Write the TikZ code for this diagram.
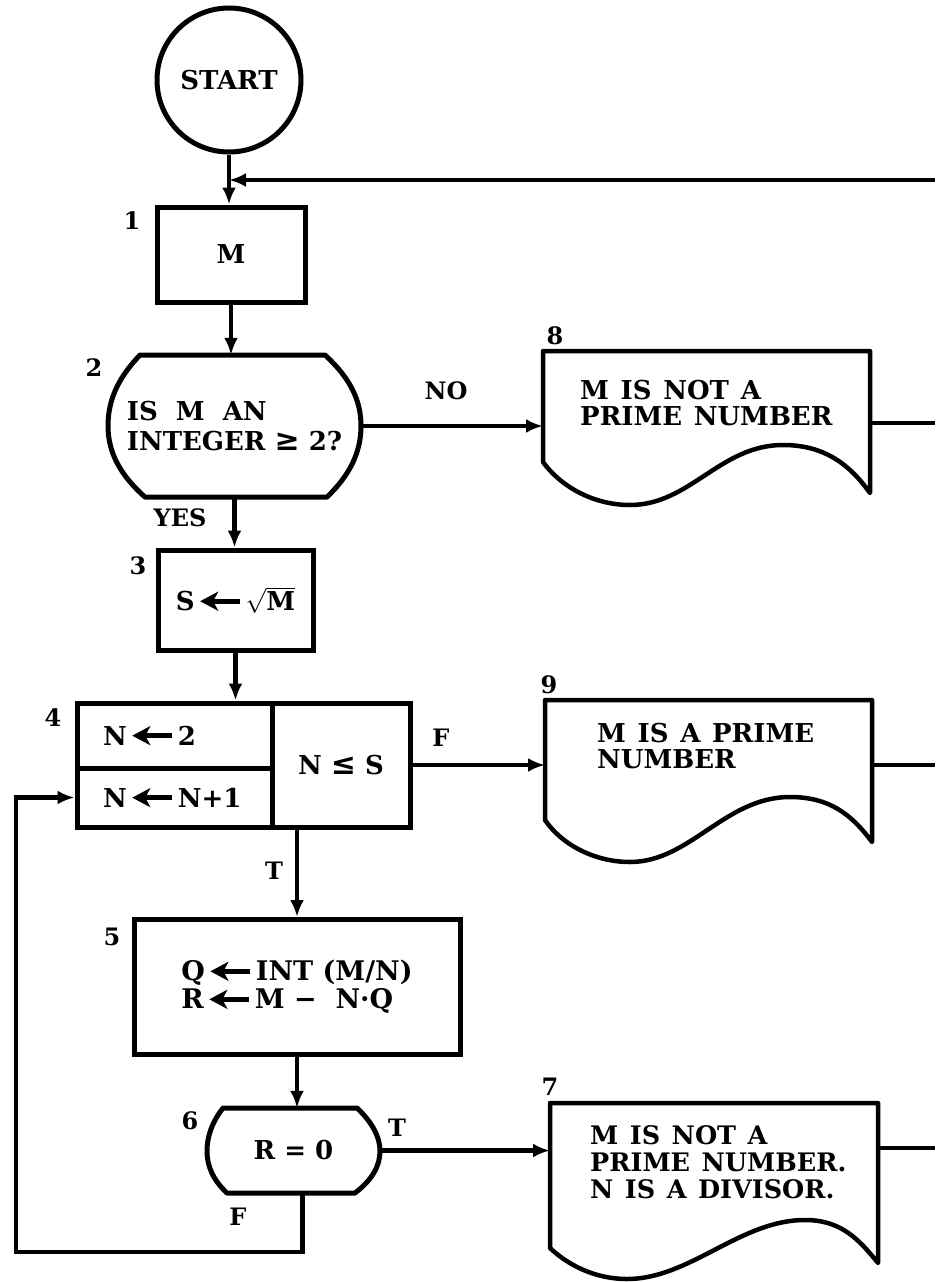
\documentclass[tikz,border=0pt]{standalone}
\usepackage{fontspec}
\setmainfont{DejaVu Serif}
\newfontfamily\symf{DejaVu Sans}
\usetikzlibrary{arrows.meta}
\newcommand\mainsz{\fontsize{26}{30}\selectfont\bfseries}
\newcommand\outsz{\fontsize{26}{26}\selectfont\bfseries\spaceskip=0.45em plus 0.1em\relax}
\newcommand\outszb{\fontsize{25.5}{27}\selectfont\bfseries\spaceskip=0.45em plus 0.1em\relax}
\newcommand\lblsz{\fontsize{24}{26}\selectfont\bfseries}
\newcommand\rel[1]{{\symf\bfseries\fontsize{30}{30}\selectfont #1}}
\newcommand\asg{\hspace{3pt}\tikz[baseline=0pt]\draw[line width=5pt,-{Stealth[length=18pt,width=19pt,inset=5pt]}] (40pt,9.5pt) -- (0pt,9.5pt);\hspace{3pt}}
\begin{document}
\begin{tikzpicture}[x=1pt,y=-1pt,
  box/.style={draw, line width=5pt, rectangle, inner sep=0pt, font=\mainsz},
  cell/.style={draw, line width=5pt, rectangle, inner ysep=0pt, font=\mainsz, align=left},
  ghost/.style={draw=none, rectangle, inner sep=0pt},
  outline/.style={line width=5pt, line join=round},
  docline/.style={line width=4.5pt, line join=round},
  conn/.style={line width=4.5pt, -{Latex[length=17pt,width=14pt]}},
  plain/.style={line width=4.5pt},
  lbl/.style={font=\lblsz, inner sep=0pt},
  outtext/.style={font=\outsz, inner sep=0pt, align=left, anchor=north west}]
\useasboundingbox (0,0) rectangle (935,1282);

% START
\node[draw, circle, line width=5pt, minimum size=144pt, inner sep=0pt, font=\mainsz] (start) at (229,80) {START};
\coordinate (fbR) at (935,180);

% box 1
\node[box, minimum width=148pt, minimum height=95pt] (b1) at (231,254.5) {M};
\node[lbl] (l1) at (132,221) {1};

% decision 2
\node[ghost, minimum width=253pt, minimum height=142pt, font=\mainsz, align=left] (d2) at (234.5,426) {IS\ \ M\ \ AN\\INTEGER \rel{≥} 2?};
\draw[outline] (140,355) -- (325,355) .. controls (350,378) and (361,400) .. (361,426)
  .. controls (361,452) and (350,475) .. (327,497) -- (145,497)
  .. controls (120,475) and (108,452) .. (108,426)
  .. controls (108,400) and (118,378) .. (140,355) -- cycle;
\node[lbl] (l2) at (94,368) {2};
\node[lbl] (yes) at (180,518) {YES};
\node[lbl] (no) at (446,391) {NO};

% box 3
\node[box, minimum width=155pt, minimum height=100pt] (b3) at (235.5,600) {S\asg$\sqrt{\hbox{M}}$};
\node[lbl] (l3) at (138,566) {3};

% box 4
\node[cell, text width=143pt, inner xsep=26pt, minimum height=65pt] (b4a) at (174.5,735.5) {N\asg 2};
\node[cell, text width=143pt, inner xsep=26pt, minimum height=59pt] (b4b) at (174.5,797.5) {N\asg N+1};
\node[box, minimum width=138pt, minimum height=124pt] (b4c) at (341,765) {N \rel{≤} S};
\node[lbl] (l4) at (53,718) {4};
\node[lbl] (f4) at (441,738) {F};
\node[lbl] (t4) at (274,871) {T};

% box 5
\node[box, minimum width=326pt, minimum height=135pt, align=left, font=\fontsize{27}{28}\selectfont\bfseries] (b5) at (297,987) {Q\asg INT (M/N)\\R\asg M {\symf −}\ \ N·Q};
\node[lbl] (l5) at (112,937) {5};

% decision 6
\node[ghost, minimum width=173pt, minimum height=85pt, font=\mainsz] (d6) at (293.5,1150.5) {R = 0};
\draw[outline] (223,1108) -- (357,1108) .. controls (372,1122) and (380,1137) .. (380,1151)
  .. controls (380,1166) and (372,1180) .. (355,1193) -- (227,1193)
  .. controls (213,1180) and (207,1166) .. (207,1151)
  .. controls (207,1137) and (212,1122) .. (223,1108) -- cycle;
\node[lbl] (l6) at (190,1121) {6};
\node[lbl] (t6) at (397,1128) {T};
\node[lbl] (f6) at (238,1217) {F};
\coordinate (loopc) at (16,1252);

% output 8
\node[ghost, minimum width=327pt, minimum height=144pt, anchor=north west] (o8) at (543,351) {};
\draw[docline] (543,462) -- (543,351) -- (870,351) -- (870,493)
  .. controls (850,465) and (825,445) .. (783,445)
  .. controls (720,445) and (690,505) .. (630,505)
  .. controls (595,505) and (562,488) .. (543,462) -- cycle;
\node[outtext] (t8) at (580,380) {M IS NOT A\\PRIME NUMBER};
\node[lbl] (l8) at (555,336) {8};

% output 9
\node[ghost, minimum width=327pt, minimum height=130pt, anchor=north west] (o9) at (545,700) {};
\draw[docline] (545,820) -- (545,700) -- (872,700) -- (872,842)
  .. controls (852,815) and (830,797) .. (790,797)
  .. controls (725,797) and (690,862) .. (630,862)
  .. controls (595,862) and (562,845) .. (545,820) -- cycle;
\node[outtext] (t9) at (597,723) {M IS A PRIME\\NUMBER};
\node[lbl] (l9) at (549,685) {9};

% output 7
\node[ghost, minimum width=328pt, minimum height=90pt, anchor=north west] (o7) at (550,1103) {};
\draw[docline] (550,1248) -- (550,1103) -- (878,1103) -- (878,1263)
  .. controls (858,1238) and (840,1220) .. (805,1220)
  .. controls (740,1220) and (690,1279) .. (627,1279)
  .. controls (595,1279) and (568,1265) .. (550,1248) -- cycle;
\node[outtext, font=\outszb] (t7) at (590,1125) {M IS NOT A\\PRIME NUMBER.\\N IS A DIVISOR.};
\node[lbl] (l7) at (550,1087) {7};

% connectors
\draw[conn] (start.south) -- (start.south |- b1.north);
\draw[conn] (fbR) -- (start.south |- fbR);
\draw[conn] (b1.south) -- (b1.south |- d2.north);
\draw[conn] (d2.south) -- (d2.south |- b3.north);
\draw[conn] (d2.east) -- (d2.east -| o8.west);
\draw[conn] (b3.south) -- (b3.south |- b4a.north);
\draw[conn] (b4c.east) -- (b4c.east -| o9.west);
\draw[conn] (b5.north |- b4c.south) -- (b5.north);
\draw[conn] (b5.south) -- (b5.south |- d6.north);
\draw[conn] (d6.east) -- (d6.east -| o7.west);
\draw[conn] ([xshift=9pt]d6.south) |- (loopc) |- (b4b.west);
\draw[plain] (o8.east) -- (o8.east -| fbR);
\draw[plain] (o9.east) -- (o9.east -| fbR);
\draw[plain] (o7.east) -- (o7.east -| fbR);
\end{tikzpicture}
\end{document}
